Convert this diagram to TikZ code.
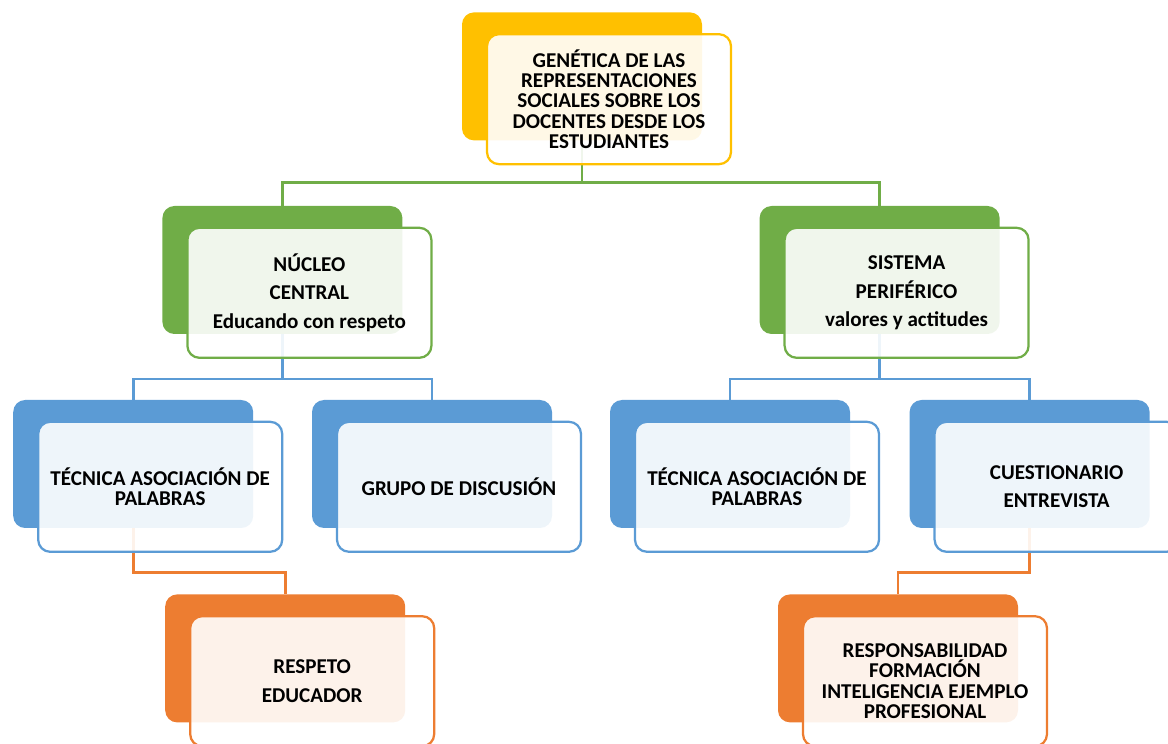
\documentclass[tikz,border=0pt]{standalone}
\usepackage{fontspec}
\setmainfont{Carlito}
\usepackage{tikz}
\usetikzlibrary{positioning}
\usetikzlibrary{calc}
\definecolor{myyellow}{RGB}{255,192,0}
\definecolor{mygreen}{RGB}{112,173,71}
\definecolor{myblue}{RGB}{91,155,213}
\definecolor{myorange}{RGB}{237,125,49}
\tikzset{
  backbox/.style={rounded corners=0.3cm, minimum width=6cm, minimum height=3.2cm, inner sep=0pt},
  frontbox/.style={rounded corners=0.3cm, minimum width=6.1cm, minimum height=3.25cm, draw, line width=1.6pt,
    fill=white, fill opacity=0.9, text opacity=1, align=center, inner sep=1pt, font=\bfseries\fontsize{15}{14.5}\selectfont},
  wide/.style={font=\bfseries\fontsize{15}{20}\selectfont},
  link/.style={line width=2pt}
}
\begin{document}
\begin{tikzpicture}
	\useasboundingbox (0,0) rectangle (29.2,-18.6);
	\begin{scope}[every node/.style={backbox}]
	    \node (Gb) [fill=myyellow] at (14.55,-1.91) {};
	    \node (Nb) [fill=mygreen] at (7.06,-6.75) {};
	    \node (Sb) [fill=mygreen] at (21.99,-6.75) {};
	    \node (Tb) [fill=myblue] at (3.33,-11.6) {};
	    \node (Db) [fill=myblue] at (10.8,-11.6) {};
	    \node (Pb) [fill=myblue] at (18.25,-11.6) {};
	    \node (Cb) [fill=myblue] at (25.74,-11.6) {};
	    \node (Rb) [fill=myorange] at (7.13,-16.46) {};
	    \node (Fb) [fill=myorange] at (22.45,-16.46) {};
	\end{scope}

	\begin{scope}[every path/.style={link}]
	    \draw [mygreen] (Gb.south) -- ++(0,-1.05) -| (Nb.north);
	    \draw [mygreen] (Gb.south) -- ++(0,-1.05) -| (Sb.north);
	    \draw [myblue] (Nb.south) -- ++(0,-1.12) -| (Tb.north);
	    \draw [myblue] (Nb.south) -- ++(0,-1.12) -| (Db.north);
	    \draw [myblue] (Sb.south) -- ++(0,-1.12) -| (Pb.north);
	    \draw [myblue] (Sb.south) -- ++(0,-1.12) -| (Cb.north);
	    \draw [myorange] (Tb.south) -- ++(0,-1.1) -| (Rb.north);
	    \draw [myorange] (Cb.south) -- ++(0,-1.1) -| (Fb.north);
	\end{scope}

	\begin{scope}[every node/.style={frontbox}]
	    \node (G) [draw=myyellow] at ($(Gb)+(0.675,-0.57)$) {GENÉTICA DE LAS\\REPRESENTACIONES\\SOCIALES SOBRE LOS\\DOCENTES DESDE LOS\\ESTUDIANTES};
	    \node (N) [draw=mygreen, wide] at ($(Nb)+(0.675,-0.57)$) {NÚCLEO\\CENTRAL\\Educando con respeto};
	    \node (S) [draw=mygreen, wide] at ($(Sb)+(0.675,-0.57)$) {SISTEMA\\PERIFÉRICO\\valores y actitudes};
	    \node (T) [draw=myblue] at ($(Tb)+(0.675,-0.57)$) {TÉCNICA ASOCIACIÓN DE\\PALABRAS};
	    \node (D) [draw=myblue] at ($(Db)+(0.675,-0.57)$) {GRUPO DE DISCUSIÓN};
	    \node (P) [draw=myblue] at ($(Pb)+(0.675,-0.57)$) {TÉCNICA ASOCIACIÓN DE\\PALABRAS};
	    \node (C) [draw=myblue, wide] at ($(Cb)+(0.675,-0.57)$) {CUESTIONARIO\\ENTREVISTA};
	    \node (R) [draw=myorange, wide] at ($(Rb)+(0.675,-0.57)$) {RESPETO\\EDUCADOR};
	    \node (F) [draw=myorange] at ($(Fb)+(0.675,-0.57)$) {RESPONSABILIDAD\\FORMACIÓN\\INTELIGENCIA EJEMPLO\\PROFESIONAL};
	\end{scope}
\end{tikzpicture}
\end{document}
